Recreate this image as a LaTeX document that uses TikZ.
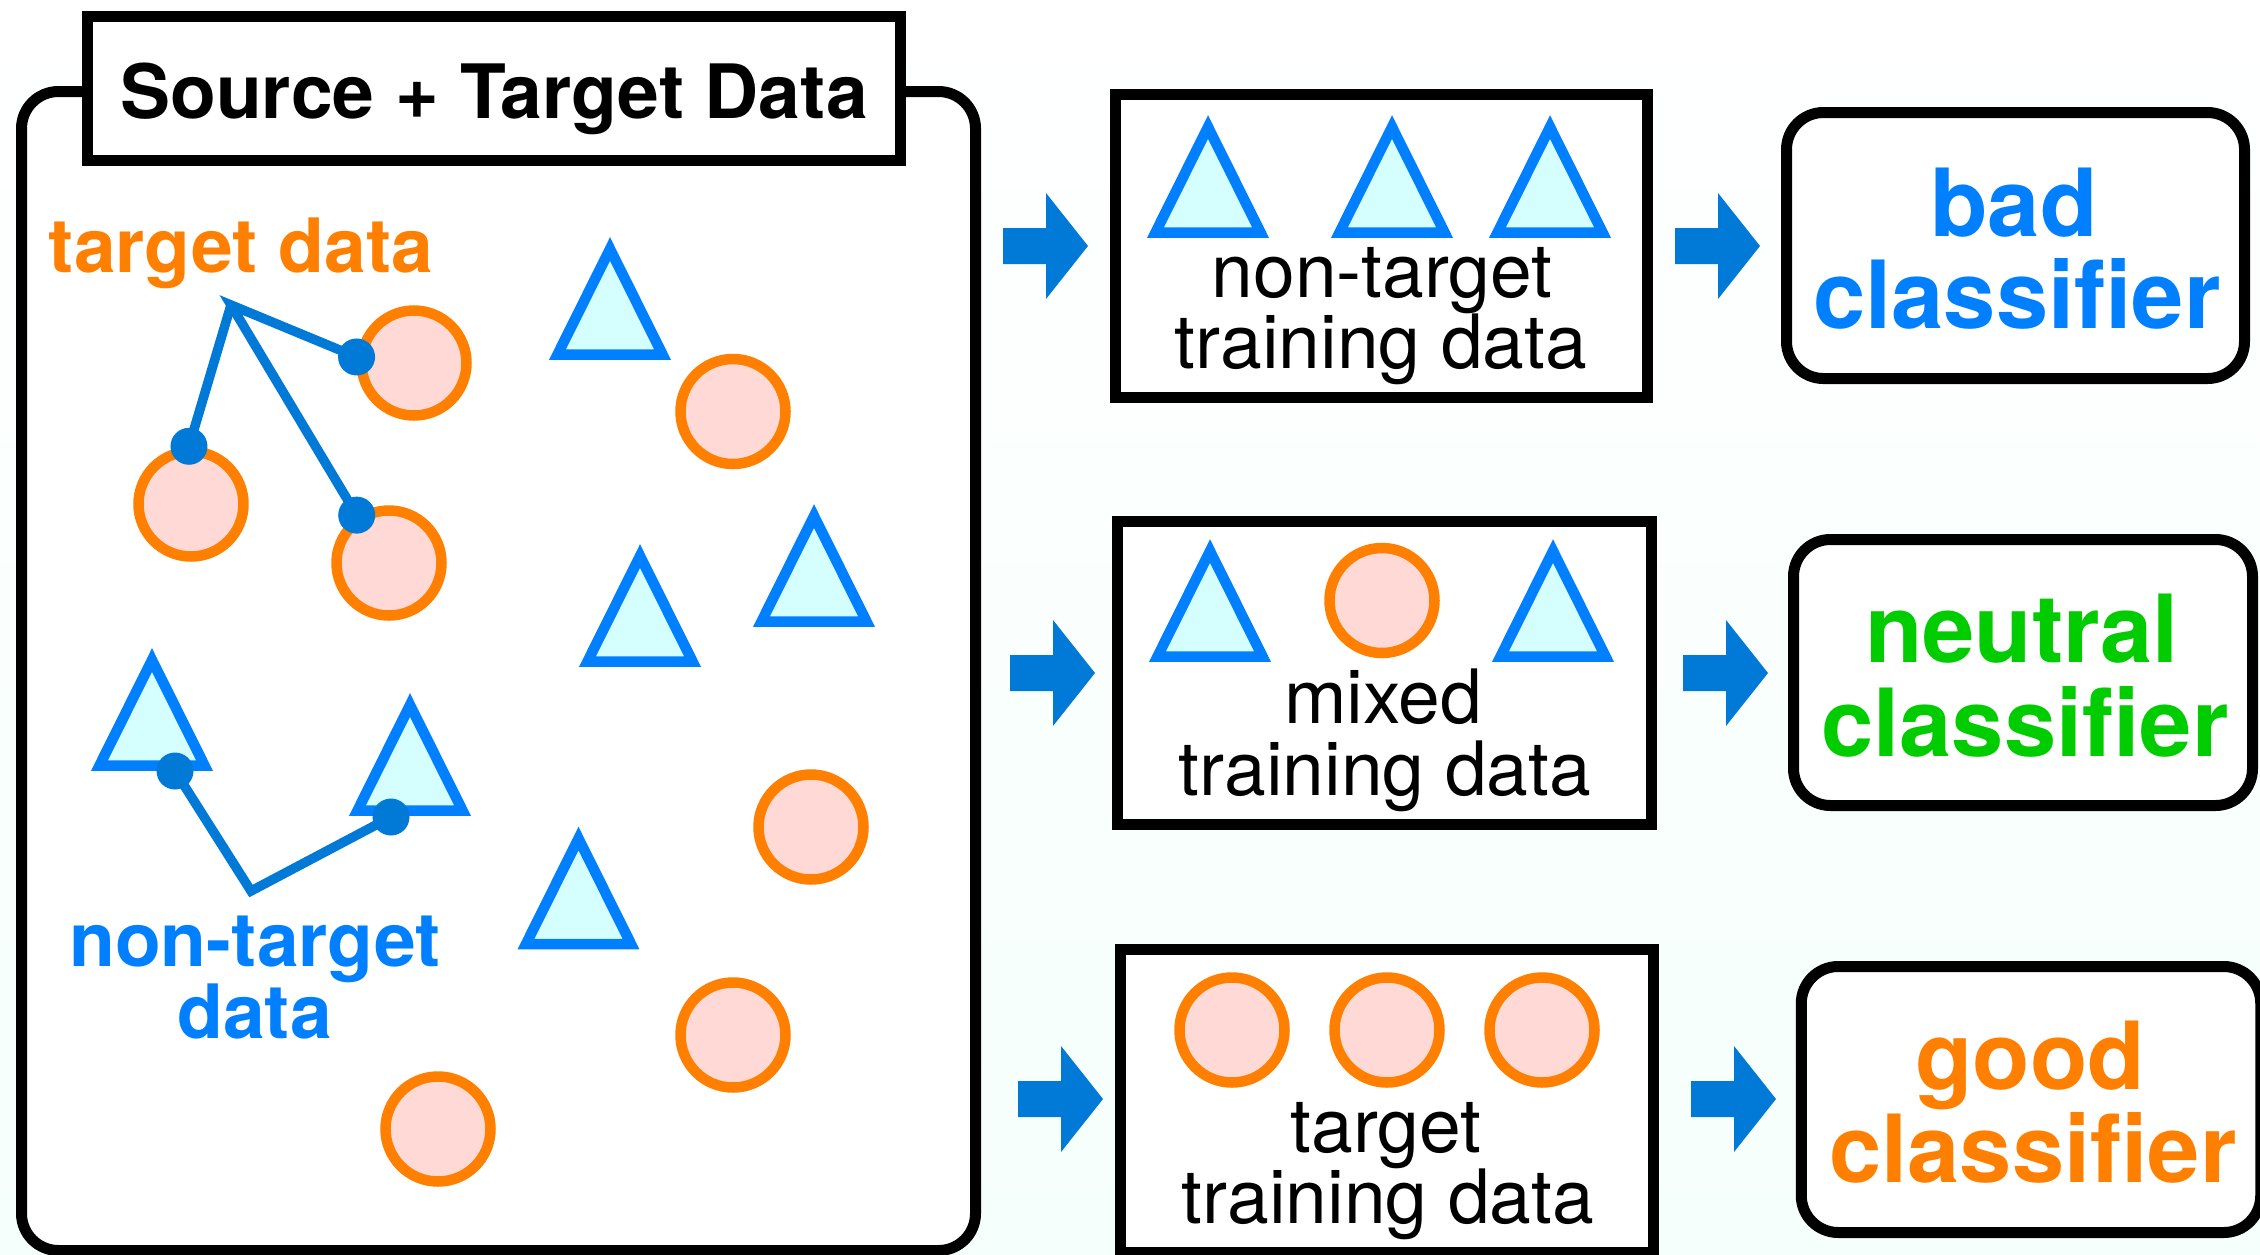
\documentclass[tikz,border=0pt]{standalone}
\usepackage{fontspec}
\setmainfont{TeX Gyre Heros}
\usetikzlibrary{calc}
\definecolor{triblue}{RGB}{0,128,255}
\definecolor{darkblue}{RGB}{0,122,214}
\definecolor{trifill}{RGB}{213,255,255}
\definecolor{dotorange}{RGB}{255,128,0}
\definecolor{circfill}{RGB}{255,217,214}
\definecolor{okgreen}{RGB}{0,204,0}
\definecolor{bgtint}{RGB}{245,255,252}
\begin{document}
\begin{tikzpicture}[x=0.5pt,y=-0.5pt,
  boxframe/.style={draw=black, line width=5.5pt, fill=white, inner sep=0pt, outer sep=0pt},
  roundframe/.style={boxframe, rounded corners=18.5pt},
  tshape/.style={draw=triblue, fill=trifill, line width=5.25pt, line join=miter},
  cshape/.style={circle, draw=dotorange, fill=circfill, line width=5.25pt, minimum size=52.5pt, inner sep=0pt},
  wire/.style={draw=darkblue, line width=4.75pt, line join=miter},
  boldlbl/.style={font=\fontsize{37.5}{37.5}\selectfont\bfseries, inner sep=0pt, anchor=base},
  plainlbl/.style={font=\fontsize{37.5}{37.5}\selectfont, inner sep=0pt, anchor=base},
  classlbl/.style={font=\fontsize{47}{47}\selectfont\bfseries, inner sep=0pt, anchor=base},
  tri/.pic={\path[tshape] (-52.5,0) -- (0,-105.5) -- (52.5,0) -- cycle;},
  blockarrow/.pic={\fill[darkblue] (0,-18) -- (43,-18) -- (43,-53) -- (85,0) -- (43,53) -- (43,18) -- (0,18) -- cycle;},
]
% canvas
\useasboundingbox (0,0) rectangle (2260,1254);
\shade[top color=white, bottom color=bgtint] (0,0) rectangle (2260,1254);

% ---------- pooled data panel ----------
\node[roundframe, minimum width=477pt, minimum height=579.5pt] (pool) at (498.5,671) {};
\node[boxframe, minimum width=406.5pt, minimum height=72pt] (title) at (494,88.5) {};
\node[boldlbl] (titletext) at (494,118.6) {Source + Target Data};

% target samples
\node[cshape] (c1) at (414,363) {};
\node[cshape] (c2) at (733,411.5) {};
\node[cshape] (c3) at (191,504) {};
\node[cshape] (c4) at (389,563) {};
\node[cshape] (c5) at (811,827) {};
\node[cshape] (c6) at (733,1035) {};
\node[cshape] (c7) at (438,1129) {};

% non-target samples
\pic at (610,354.5) {tri};
\pic at (640,661.5) {tri};
\pic at (814,621.5) {tri};
\pic at (152,765.5) {tri};
\pic at (410,810.5) {tri};
\pic at (578.5,944) {tri};

% callout for target data
\node[boldlbl, text=dotorange] (tgtlbl) at (241,272) {target data};
\coordinate (hub) at (231,305);
\draw[wire] (c1.174) -- (hub) -- (c4.124);
\draw[wire] (hub) -- (c3.92);
\fill[darkblue] (c1.174) circle[radius=9.25pt];
\fill[darkblue] (c3.92) circle[radius=9.25pt];
\fill[darkblue] (c4.124) circle[radius=9.25pt];

% callout for non-target data
\coordinate (d4) at (175,771);
\coordinate (d5) at (391,817);
\coordinate (vee) at (251,891);
\draw[wire] (d4) -- (vee) -- (d5);
\fill[darkblue] (d4) circle[radius=9.25pt];
\fill[darkblue] (d5) circle[radius=9.25pt];
\node[boldlbl, text=triblue] (ntlbl1) at (255,966) {non-target};
\node[boldlbl, text=triblue] (ntlbl2) at (254.5,1038) {data};

% ---------- training sets ----------
\node[boxframe, minimum width=266pt, minimum height=151.5pt] (set1) at (1381.5,246) {};
\pic at (1208,232.5) {tri};
\pic at (1392,232.5) {tri};
\pic at (1550,232.5) {tri};
\node[plainlbl] (set1a) at (1382,297) {non-target};
\node[plainlbl] (set1b) at (1381,368) {training data};

\node[boxframe, minimum width=267pt, minimum height=151.5pt] (set2) at (1384.5,673) {};
\pic at (1210,656.5) {tri};
\node[cshape] (m1) at (1382,600.5) {};
\pic at (1553,656.5) {tri};
\node[plainlbl] (set2a) at (1383,723) {mixed};
\node[plainlbl] (set2b) at (1385,795) {training data};

\node[boxframe, minimum width=266.5pt, minimum height=151.5pt] (set3) at (1387,1101) {};
\node[cshape] (g1) at (1232,1030) {};
\node[cshape] (g2) at (1387,1030) {};
\node[cshape] (g3) at (1542,1030) {};
\node[plainlbl] (set3a) at (1386,1152) {target};
\node[plainlbl] (set3b) at (1388,1223) {training data};

% ---------- resulting classifiers ----------
\node[roundframe, minimum width=229pt, minimum height=133pt] (bad) at (2015.5,245.5) {};
\node[classlbl, text=triblue] (bada) at (2014,236) {bad};
\node[classlbl, text=triblue] (badb) at (2017,328) {classifier};

\node[roundframe, minimum width=229.5pt, minimum height=133pt] (neutral) at (2023,672.5) {};
\node[classlbl, text=okgreen] (neua) at (2022,662) {neutral};
\node[classlbl, text=okgreen] (neub) at (2025,756) {classifier};

\node[roundframe, minimum width=229.75pt, minimum height=133pt] (good) at (2031,1099.5) {};
\node[classlbl, text=dotorange] (gooda) at (2030,1089) {good};
\node[classlbl, text=dotorange] (goodb) at (2033,1182) {classifier};

% ---------- flow arrows ----------
\pic at (1003,246) {blockarrow};
\pic at (1675,246) {blockarrow};
\pic at (1010,673) {blockarrow};
\pic at (1683,673) {blockarrow};
\pic at (1018,1099) {blockarrow};
\pic at (1691,1099) {blockarrow};
\end{tikzpicture}
\end{document}
